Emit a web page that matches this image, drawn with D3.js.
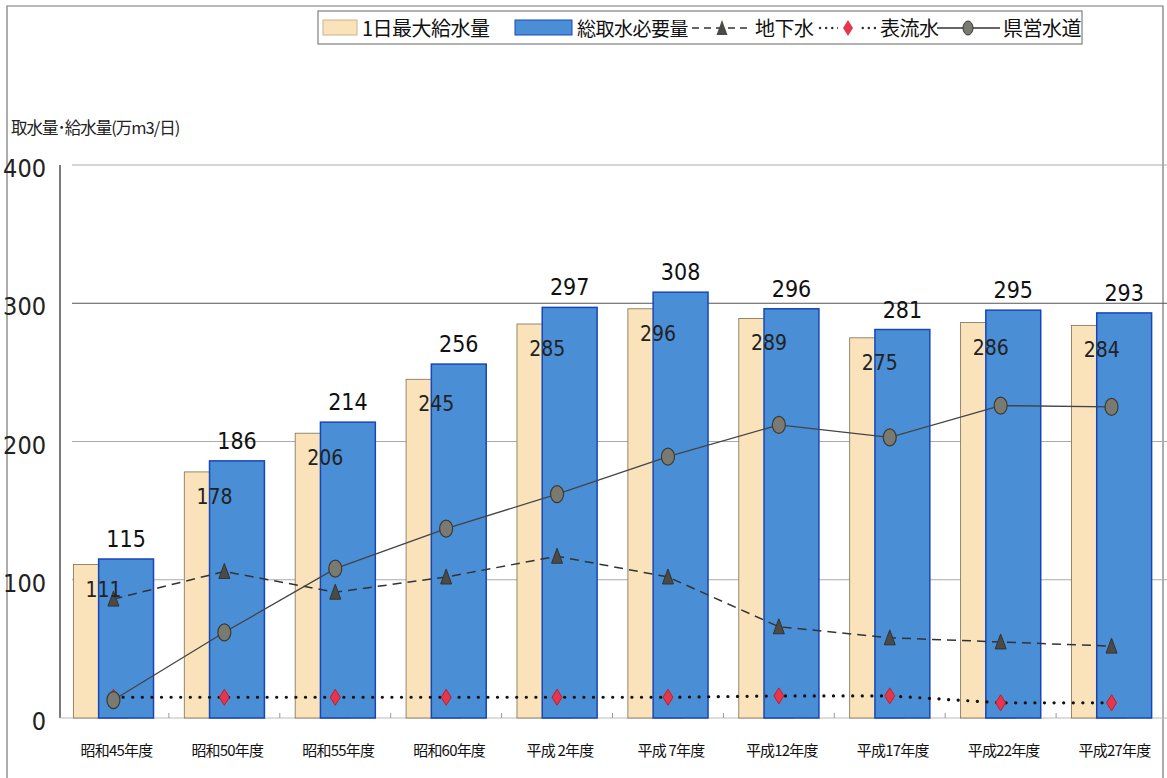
<!DOCTYPE html>
<html><head><meta charset="utf-8">
<script src="https://cdn.jsdelivr.net/npm/d3@7"></script>
<style>
body{margin:0;background:#fff;}
svg{display:block;}
</style></head>
<body>
<svg id="c" width="1167" height="778"></svg>
<script>
const categories = ["昭和45年度","昭和50年度","昭和55年度","昭和60年度","平成 2年度","平成 7年度","平成12年度","平成17年度","平成22年度","平成27年度"];
const maxSupply = [111,178,206,245,285,296,289,275,286,284];   // 1日最大給水量
const totalIntake = [115,186,214,256,297,308,296,281,295,293]; // 総取水必要量
const groundwater = [86,106,91,102,117,102,66,58,55,52];       // 地下水
const surfaceWater = [15,15,15,15,15,15,16,16,11,11];          // 表流水
const prefWater = [13,62,108,137,162,189,212,203,226,225];     // 県営水道
const yTicks = [0,100,200,300,400];
const legendLabels = ["1日最大給水量","総取水必要量","地下水","表流水","県営水道"];

(function(){
const svg = d3.select("#c");
const NUM = "'Liberation Sans Narrow','DejaVu Sans Condensed','Liberation Sans',sans-serif";
const JP = "'Noto Sans CJK JP','Noto Sans CJK SC',sans-serif";

const pL = 58, pR = 1167, pT = 165, pB = 718;
const x = d3.scaleBand().domain(categories).range([pL, pR]).padding(0);
const y = d3.scaleLinear().domain([0,400]).range([pB, pT]);
const bw = x.bandwidth();
const barW = bw * 0.495;
const cx = c => x(c) + bw/2;

// outer frame
svg.append("path").attr("d", `M7,778 V6 H1163 V778`).attr("fill","none").attr("stroke","#777").attr("stroke-width",1.2);

// gridlines
svg.append("g").selectAll("line").data(yTicks.filter(t=>t>0)).join("line")
  .attr("x1", pL+14).attr("x2", pR).attr("y1", d=>y(d)).attr("y2", d=>y(d))
  .attr("stroke", d=> d===300 ? "#555" : "#aaa").attr("stroke-width",1);

// y axis line
svg.append("line").attr("x1",60).attr("x2",60).attr("y1",y(400)).attr("y2",y(0)).attr("stroke","#333").attr("stroke-width",1.3);
// x axis line
svg.append("line").attr("x1",60).attr("x2",pR).attr("y1",y(0)).attr("y2",y(0)).attr("stroke","#bbb").attr("stroke-width",1);
svg.append("g").selectAll("line").data(categories.slice(1)).join("line")
  .attr("x1", d=>x(d)).attr("x2", d=>x(d)).attr("y1", y(0)).attr("y2", y(0)-5).attr("stroke","#999");

// y tick labels
svg.append("g").selectAll("text").data(yTicks).join("text")
  .attr("x", 46).attr("y", d=>y(d)+12).attr("text-anchor","end")
  .attr("font-family", NUM).attr("font-size", 25).attr("fill","#222").text(d=>d);

// y title
svg.append("text").attr("x", 11).attr("y", 134).attr("font-family", JP).attr("font-size", 16.5)
  .attr("fill","#222").attr("letter-spacing",-1).text("取水量･給水量(万m3/日)");

// bars
svg.append("g").selectAll("rect").data(categories).join("rect")
  .attr("x", d=>cx(d) - barW*0.73).attr("width", barW)
  .attr("y", (d,i)=>y(maxSupply[i])).attr("height", (d,i)=>y(0)-y(maxSupply[i]))
  .attr("fill","#FAE3BA").attr("stroke","#7d6e52").attr("stroke-width",0.8);
svg.append("g").selectAll("rect").data(categories).join("rect")
  .attr("x", d=>cx(d) - barW*0.27).attr("width", barW)
  .attr("y", (d,i)=>y(totalIntake[i])).attr("height", (d,i)=>y(0)-y(totalIntake[i]))
  .attr("fill","#4A8ED6").attr("stroke","#1846B8").attr("stroke-width",1.5);

// lines
const line = arr => d3.line().x((d,i)=>cx(categories[i])).y(d=>y(d))(arr);
svg.append("path").attr("d", line(surfaceWater)).attr("fill","none").attr("stroke","#111")
  .attr("stroke-width",3.2).attr("stroke-linecap","round").attr("stroke-dasharray","0.1,9.5");
svg.append("path").attr("d", line(groundwater)).attr("fill","none").attr("stroke","#333")
  .attr("stroke-width",1.5).attr("stroke-dasharray","9,6");
svg.append("path").attr("d", line(prefWater)).attr("fill","none").attr("stroke","#444")
  .attr("stroke-width",1.3);

// markers
svg.append("g").selectAll("path").data(surfaceWater).join("path")
  .attr("transform",(d,i)=>`translate(${cx(categories[i])},${y(d)})`)
  .attr("d","M0,-8 L5,0 L0,8 L-5,0 Z").attr("fill","#E8354F").attr("stroke","#b22");
svg.append("g").selectAll("path").data(groundwater).join("path")
  .attr("transform",(d,i)=>`translate(${cx(categories[i])},${y(d)})`)
  .attr("d","M0,-8 L5.5,7 L-5.5,7 Z").attr("fill","#4a4a46").attr("stroke","#333");
svg.append("g").selectAll("ellipse").data(prefWater).join("ellipse")
  .attr("cx",(d,i)=>cx(categories[i])).attr("cy", d=>y(d)).attr("rx",6.5).attr("ry",8.5)
  .attr("fill","#7b7a70").attr("stroke","#3a3a36").attr("stroke-width",1.2);

// value labels
svg.append("g").selectAll("text").data(totalIntake).join("text")
  .attr("x",(d,i)=>cx(categories[i]) + barW*0.23).attr("y", d=>y(d)-12)
  .attr("text-anchor","middle").attr("font-family",NUM).attr("font-size",23).attr("fill","#111").text(d=>d);
svg.append("g").selectAll("text").data(maxSupply).join("text")
  .attr("x",(d,i)=>cx(categories[i]) - barW*0.18).attr("y", d=>y(d)+32)
  .attr("text-anchor","middle").attr("font-family",NUM).attr("font-size",21).attr("fill","#222").text(d=>d);

// x labels
svg.append("g").selectAll("text").data(categories).join("text")
  .attr("x", d=>cx(d)+3).attr("y", 756).attr("text-anchor","middle")
  .attr("font-family", JP).attr("font-size",15).attr("letter-spacing",-0.8).attr("fill","#111").text(d=>d);

// legend
const lg = svg.append("g");
lg.append("rect").attr("x",318).attr("y",11).attr("width",764).attr("height",33).attr("fill","#fff").attr("stroke","#666").attr("stroke-width",1);
lg.append("rect").attr("x",323).attr("y",20).attr("width",34).attr("height",15).attr("fill","#FAE3BA").attr("stroke","#c9b48a");
lg.append("text").attr("x",362).attr("y",36).attr("font-family",JP).attr("font-size",20).attr("letter-spacing",-0.5).attr("fill","#111").text(legendLabels[0]);
lg.append("rect").attr("x",515).attr("y",20).attr("width",57).attr("height",15).attr("fill","#4A8ED6").attr("stroke","#1846B8");
lg.append("text").attr("x",577).attr("y",36).attr("font-family",JP).attr("font-size",19).attr("letter-spacing",-0.5).attr("fill","#111").text(legendLabels[1]);
// groundwater
lg.append("line").attr("x1",692).attr("x2",752).attr("y1",28).attr("y2",28).attr("stroke","#333").attr("stroke-width",1.5).attr("stroke-dasharray","7,5");
lg.append("path").attr("transform","translate(722,28)").attr("d","M0,-8 L5.5,7 L-5.5,7 Z").attr("fill","#4a4a46");
lg.append("text").attr("x",755).attr("y",36).attr("font-family",JP).attr("font-size",20).attr("letter-spacing",-0.5).attr("fill","#111").text(legendLabels[2]);
// surface
lg.append("line").attr("x1",820).attr("x2",876).attr("y1",28).attr("y2",28).attr("stroke","#333").attr("stroke-width",2.4).attr("stroke-linecap","round").attr("stroke-dasharray","0.1,6");
lg.append("rect").attr("x",838).attr("y",18).attr("width",20).attr("height",20).attr("fill","#fff");
lg.append("path").attr("transform","translate(848,28)").attr("d","M0,-8 L5,0 L0,8 L-5,0 Z").attr("fill","#E8354F");
lg.append("text").attr("x",880).attr("y",36).attr("font-family",JP).attr("font-size",20).attr("letter-spacing",-0.5).attr("fill","#111").text(legendLabels[3]);
// pref
lg.append("line").attr("x1",937).attr("x2",1000).attr("y1",28).attr("y2",28).attr("stroke","#333").attr("stroke-width",1.5);
lg.append("ellipse").attr("cx",968).attr("cy",28).attr("rx",5).attr("ry",7).attr("fill","#7b7a70").attr("stroke","#333");
lg.append("text").attr("x",1003).attr("y",36).attr("font-family",JP).attr("font-size",20).attr("letter-spacing",-0.5).attr("fill","#111").text(legendLabels[4]);
})();
</script>
</body></html>
